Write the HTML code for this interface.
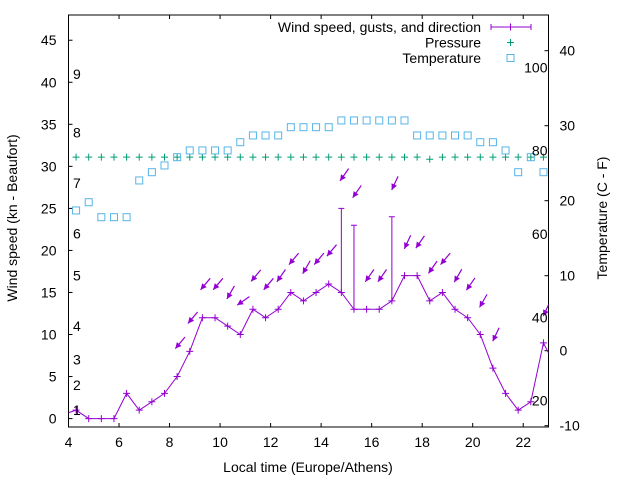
<!DOCTYPE html>
<html><head><meta charset="utf-8"><style>
html,body{margin:0;padding:0;background:#fff;}
svg{display:block;font-family:"Liberation Sans",sans-serif;}
</style></head><body>
<svg id="chart" width="640" height="480" xmlns="http://www.w3.org/2000/svg">
<defs><clipPath id="plotclip"><rect x="68.5" y="15" width="480" height="412"/></clipPath></defs>
<g id="grid"></g>
<g id="series" clip-path="url(#plotclip)"></g>
<g id="labels"></g>
</svg>
<script>
const times = [3.8,4.3,4.8,5.3,5.8,6.3,6.8,7.3,7.8,8.3,8.8,9.3,9.8,10.3,10.8,11.3,11.8,12.3,12.8,13.3,13.8,14.3,14.8,15.3,15.8,16.3,16.8,17.3,17.8,18.3,18.8,19.3,19.8,20.3,20.8,21.3,21.8,22.3,22.8,23.3];
const windSpeed = [0.5,1,0,0,0,3,1,2,3,5,8,12,12,11,10,13,12,13,15,14,15,16,15,13,13,13,14,17,17,14,15,13,12,10,6,3,1,2,9,6];
const gustTimes = [14.8,15.3,16.8];
const gustBase = [15,13,14];
const gustValues = [25,23,24];
const arrowTimes = [8.3,8.8,9.3,9.8,10.3,10.8,11.3,11.8,12.3,12.8,13.3,13.8,14.3,14.8,15.3,15.8,16.3,16.8,17.3,17.8,18.3,18.8,19.3,19.8,20.3,20.8,22.8];
const arrowSpeeds = [5,8,12,12,11,10,13,12,13,15,14,15,16,25,23,13,13,24,17,17,14,15,13,12,10,6,9];
const arrowDirs = [40,40,40,40,30,55,40,40,35,40,30,40,40,35,35,35,35,25,25,35,35,40,30,35,30,25,25];
const tempTimes = [4.3,4.8,5.3,5.8,6.3,6.8,7.3,7.8,8.3,8.8,9.3,9.8,10.3,10.8,11.3,11.8,12.3,12.8,13.3,13.8,14.3,14.8,15.3,15.8,16.3,16.8,17.3,17.8,18.3,18.8,19.3,19.8,20.3,20.8,21.3,21.8,22.3,22.8];
const tempC = [18.7,19.8,17.8,17.8,17.8,22.7,23.8,24.7,25.8,26.7,26.7,26.7,26.7,27.8,28.7,28.7,28.7,29.8,29.8,29.8,29.8,30.7,30.7,30.7,30.7,30.7,30.7,28.7,28.7,28.7,28.7,28.7,27.8,27.8,26.7,23.8,25.8,23.8];
const pressure = [31.1,31.1,31.1,31.1,31.1,31.1,31.1,31.1,31.1,31.1,31.1,31.1,31.1,31.1,31.1,31.1,31.1,31.1,31.1,31.1,31.1,31.1,31.1,31.1,31.1,31.1,31.1,31.1,30.85,31.1,31.1,31.1,31.1,31.1,31.1,31.1,31.1,31.1];
const xTicks = [4,6,8,10,12,14,16,18,20,22];
const yTicks = [0,5,10,15,20,25,30,35,40,45];
const tTicks = [-10,0,10,20,30,40];
const fTicks = [20,40,60,80,100];
const beaufortLabels = ['1','2','3','4','5','6','7','8','9'];
const beaufortKn = [1,4,7,11,17,22,28,34,41];

const L=68.5,R=548.5,T=15,B=427;
const X=h=>L+(h-4)*(R-L)/19;
const Y=v=>B-(v+1)*(B-T)/49;
const TY=c=>425.7-(c+10)*7.5;
const NS='http://www.w3.org/2000/svg';
function mk(tag,attrs,parent,text){const e=document.createElementNS(NS,tag);for(const k in attrs)e.setAttribute(k,attrs[k]);if(text!==undefined)e.textContent=text;parent.appendChild(e);return e;}
const grid=document.getElementById('grid'),ser=document.getElementById('series'),lab=document.getElementById('labels');
const PURPLE='#9400d3',GREEN='#009e73',BLUE='#56b4e9';

const frame=mk('rect',{x:L,y:T,width:R-L,height:B-T,fill:'none',stroke:'#000','stroke-width':1},grid);



xTicks.forEach(t=>{
  const x=X(t);
  const tk=mk('path',{d:`M${x},${B}v-4M${x},${T}v4`,stroke:'#000'},grid);
  
  
  const tx=mk('text',{x:x,y:B+20,'text-anchor':'middle','font-size':14},lab,String(t));
  
  
});
yTicks.forEach(t=>{
  const y=Y(t);
  const tk=mk('path',{d:`M${L},${y}h4`,stroke:'#000'},grid);
  
  
  const tx=mk('text',{x:L-12,y:y+5,'text-anchor':'end','font-size':14},lab,String(t));
  
  
});
tTicks.forEach(t=>{
  const y=TY(t);
  const tk=mk('path',{d:`M${R},${y}h-4`,stroke:'#000'},grid);
  
  
  const tx=mk('text',{x:R+11,y:y+5,'font-size':14},lab,String(t));
  
  
});
fTicks.forEach(f=>{
  const y=TY((f-32)*5/9);
  const tx=mk('text',{x:R-1,y:y+5,'text-anchor':'end','font-size':14},lab,String(f));
  
  
});
beaufortLabels.forEach((b,i)=>{
  const tx=mk('text',{x:73,y:Y(beaufortKn[i])+5,'font-size':14},lab,b);
  
  
});

// pressure
tempTimes.forEach((t,i)=>{
  const x=X(t),y=Y(pressure[i]);
  const p=mk('path',{d:`M${x-3.5},${y}h7M${x},${y-3.5}v7`,stroke:GREEN},ser);
  
  
});
// temperature
tempTimes.forEach((t,i)=>{
  const x=X(t),y=TY(tempC[i]);
  const p=mk('rect',{x:x-3.5,y:y-3.5,width:7,height:7,fill:'none',stroke:BLUE},ser);
  
  
});
// wind line
const wl=mk('polyline',{points:times.map((t,i)=>X(t)+','+Y(windSpeed[i])).join(' '),fill:'none',stroke:PURPLE},ser);


times.forEach((t,i)=>{
  const x=X(t),y=Y(windSpeed[i]);
  const p=mk('path',{d:`M${x-3.5},${y}h7M${x},${y-3.5}v7`,stroke:PURPLE},ser);
  
  
});
gustTimes.forEach((t,i)=>{
  const x=X(t),y0=Y(gustBase[i]),y1=Y(gustValues[i]);
  const p=mk('path',{d:`M${x},${y0}V${y1}M${x-3},${y1}h6`,stroke:PURPLE},ser);
  
  
});
arrowTimes.forEach((t,i)=>{
  const cx=X(t)+3,cy=Y(arrowSpeeds[i]+4);
  const a=arrowDirs[i]*Math.PI/180;
  const dx=Math.sin(a)*7.5,dy=-Math.cos(a)*7.5;
  const x1=cx+dx,y1=cy+dy,x2=cx-dx,y2=cy-dy;
  const ux=(x2-x1)/15,uy=(y2-y1)/15;
  const hx=x2-ux*6,hy=y2-uy*6;
  const g=mk('g',{},ser);
  
  
  mk('line',{x1:x1,y1:y1,x2:x2,y2:y2,stroke:PURPLE,'stroke-width':1.2},g);
  mk('polygon',{points:`${x2},${y2} ${hx-uy*3},${hy+ux*3} ${hx+uy*3},${hy-ux*3}`,fill:PURPLE},g);
});

// axis titles
const xt=mk('text',{x:308,y:472,'text-anchor':'middle','font-size':14},lab,'Local time (Europe/Athens)');


const yt=mk('text',{x:0,y:0,'text-anchor':'middle','font-size':14,transform:'translate(17,218) rotate(-90)'},lab,'Wind speed (kn - Beaufort)');


const y2t=mk('text',{x:0,y:0,'text-anchor':'middle','font-size':14,transform:'translate(607,218) rotate(-90)'},lab,'Temperature (C - F)');



// legend
const leg=[['Wind speed, gusts, and direction',PURPLE,'bar'],['Pressure',GREEN,'plus'],['Temperature',BLUE,'box']];
leg.forEach((e,i)=>{
  const y=27+i*15.5;
  const g=mk('g',{},lab);
  
  
  mk('text',{x:481,y:y+5,'text-anchor':'end','font-size':14},g,e[0]);
  if(e[2]==='bar'){mk('path',{d:`M491,${y}h40M491,${y-3}v6M531,${y-3}v6M510.5,${y-3.5}v7`,stroke:e[1]},g);}
  else if(e[2]==='plus'){mk('path',{d:`M507,${y}h7M510.5,${y-3.5}v7`,stroke:e[1]},g);}
  else {mk('rect',{x:507,y:y-3.5,width:7,height:7,fill:'none',stroke:e[1]},g);}
});
</script>
</body></html>
